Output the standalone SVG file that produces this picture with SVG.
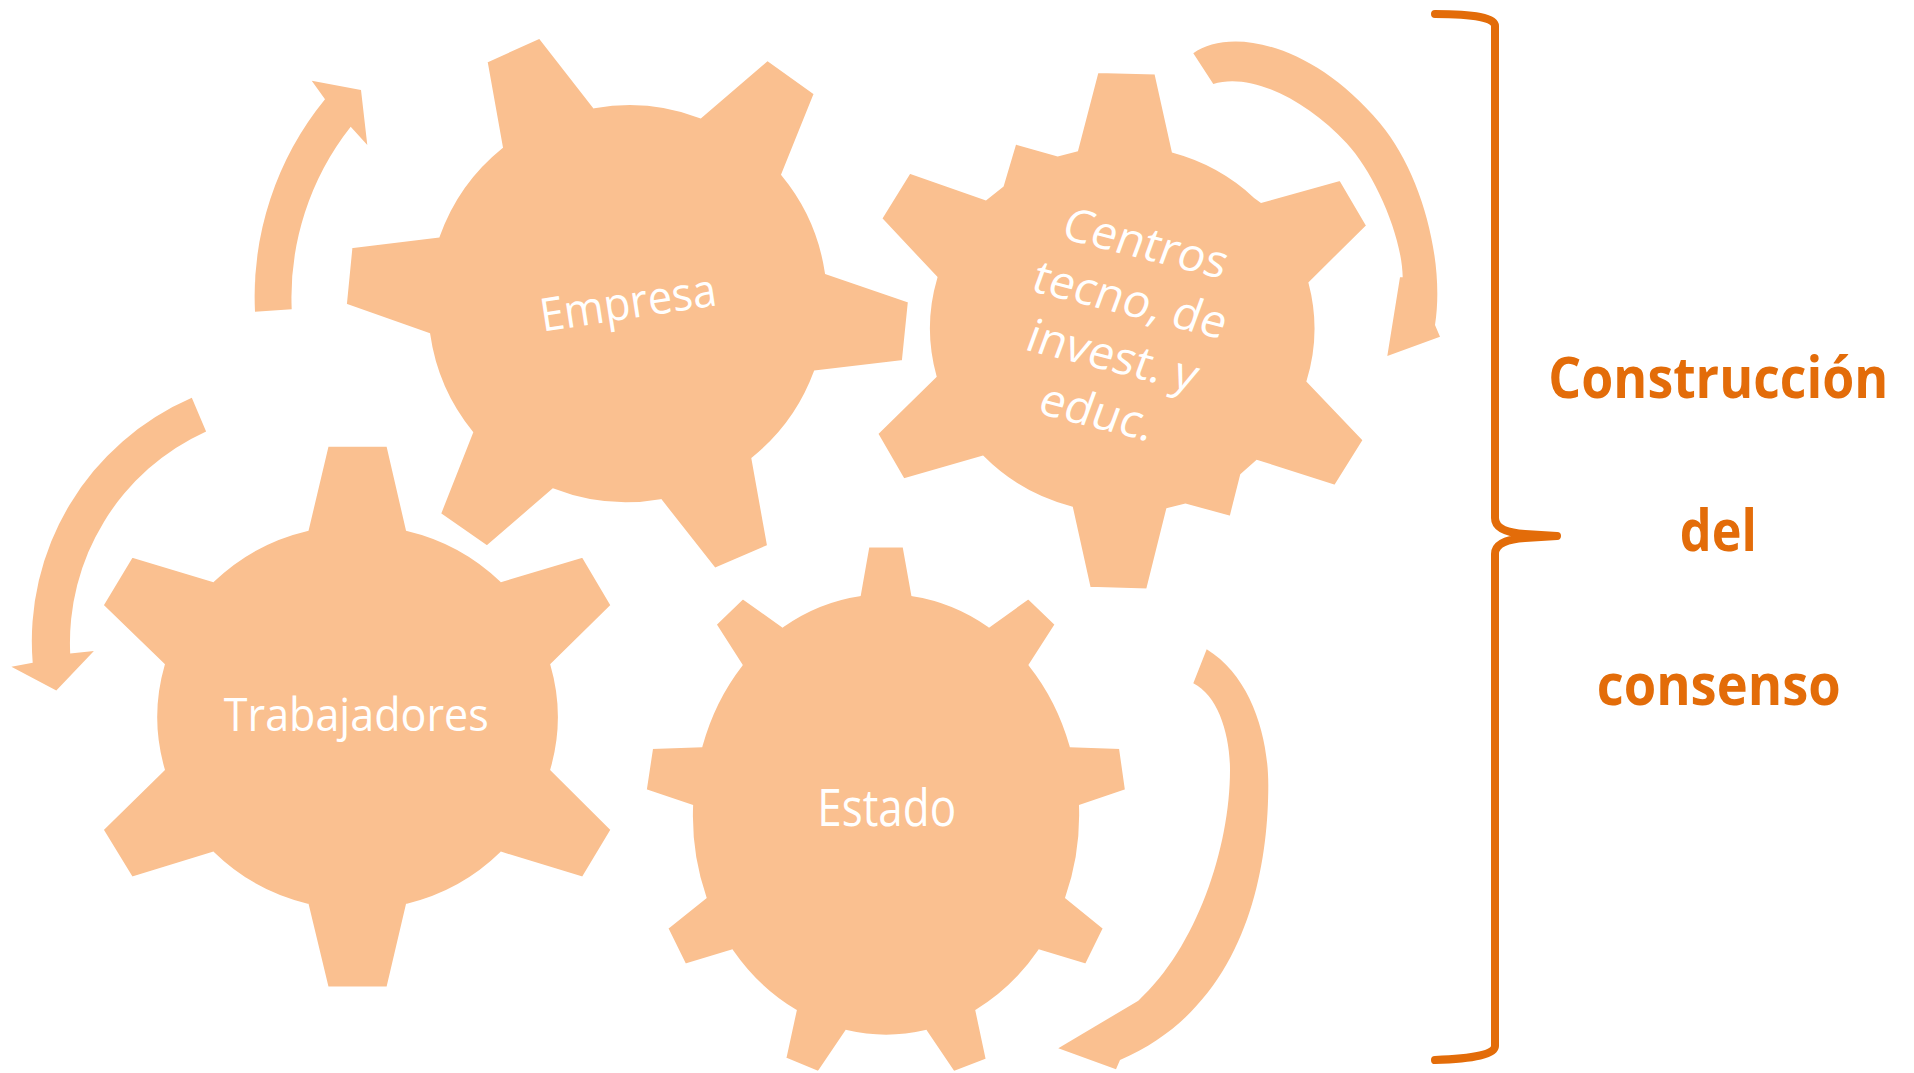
<svg xmlns="http://www.w3.org/2000/svg" width="1914" height="1073" viewBox="0 0 1914 1073">
<style>
.gear{fill:#FAC090;stroke:#FFFFFF;stroke-width:3;stroke-linejoin:miter}
.arrow{fill:#FAC090;stroke:none}
.gt{font-family:"Open Sans","Liberation Sans",sans-serif;font-size:46px;fill:#FFFFFF;text-anchor:middle}
.lbl{font-family:"Open Sans","Liberation Sans",sans-serif;font-weight:700;font-size:52px;fill:#E36C09;text-anchor:middle}
.brace{fill:none;stroke:#E36C09;stroke-width:8;stroke-linecap:round;stroke-linejoin:round}
</style>
<rect width="1914" height="1073" fill="#FFFFFF"/>
<g id="connectors">
<path class="arrow" d="M 255,311.7 A 312 312 0 0 1 325,99.3 L 311.7,80.7 L 361,90 L 367.3,145 L 350.7,126.7 A 276 276 0 0 0 291.7,309.3 Z"/>
<path class="arrow" d="M 191.8,397.8 A 265 265 0 0 0 32.7,662.7 L 11.4,666.7 L 56.3,690.4 L 93.9,650.9 L 70.2,653.6 A 232 232 0 0 1 206.1,431.4 Z"/>
<path class="arrow" d="M 1193.3,53.3 C 1228,28 1310,40 1380,123.3 C 1422,173.3 1445,262 1435,325 L 1440,336.7 L 1387.3,356 L 1400,277.3 L 1402.7,277.3 C 1402,235 1373.9,172.7 1346.7,143.3 C 1306,99.3 1250,72 1213.3,84 Z"/>
<path class="arrow" d="M 1206.7,649.3 C 1250.9,676.3 1268.3,736 1268.3,785 C 1268.3,874 1244.1,1006.8 1120,1060 L 1116,1069.3 L 1058.3,1048.3 L 1138.3,1000.7 C 1196.4,947.6 1230,848 1230,770 C 1230,734.5 1218.2,695.7 1193.3,683.3 Z"/>
</g>
<g id="empresa">
<path class="gear" d="M 486.1,61.4 L 539.7,37.1 L 594.1,106.8 A 200 200 0 0 1 700.5,116.8 L 767.4,59.3 L 815.3,93.6 L 782.7,174.6 A 200 200 0 0 1 826.4,272.9 L 909.4,301.4 L 903.3,361.4 L 815.3,371.8 A 200 200 0 0 1 752.9,458.6 L 768.6,546.1 L 714.6,569.3 L 660.7,500.7 A 200 200 0 0 1 553.1,490 L 486.9,547.1 L 439.5,513.9 L 471.6,432.5 A 200 200 0 0 1 428.7,334.3 L 345.3,305 L 351,246.8 L 438.3,236.1 A 200 200 0 0 1 501.4,147.1 Z"/>
<text class="gt" transform="translate(630.4,318.4) rotate(-8.66)" textLength="178" lengthAdjust="spacingAndGlyphs">Empresa</text>
</g>
<g id="centros">
<path class="gear" d="M 1097.2,71.4 L 1155.8,72.9 L 1173.2,151.4 A 192 185 0 0 1 1255.4,197.1 L 1261.3,201.4 L 1340.4,179.3 L 1367.7,225.7 L 1310,282.9 A 192 185 0 0 1 1308,381.1 L 1364.2,440 L 1335.3,486.4 L 1257,461.4 L 1241.6,475 L 1230.9,517.5 L 1185.4,505 L 1167.6,509.6 L 1147.5,590 L 1089.3,588.2 L 1071.5,507.9 A 192 185 0 0 1 982.6,457.1 L 903.5,480 L 876.6,433.6 L 935.1,376.4 A 192 185 0 0 1 935.9,277.5 L 880.6,218.6 L 909.4,172.1 L 985.7,198.9 L 1002.3,185.7 L 1015,142.9 L 1057.7,155 L 1076.7,150 Z"/>
<g transform="translate(1122,331.5) rotate(14.2) skewX(-6)">
<text class="gt" x="-8" y="-75.5">Centros</text>
<text class="gt" x="-3" y="-17">tecno, de</text>
<text class="gt" x="0" y="41.5">invest. y</text>
<text class="gt" x="5" y="100">educ.</text>
</g>
</g>
<g id="trabajadores">
<path class="gear" d="M 327.3,445.2 L 387.8,445.2 L 407.3,529.5 A 201 194 0 0 1 501.2,580.5 L 582.9,556 L 612.2,605.4 L 551.8,664.7 A 201 194 0 0 1 551.8,769.5 L 612.2,829.6 L 582.9,878.2 L 501.2,853.3 A 201 194 0 0 1 407.3,905.1 L 387.8,988.1 L 327.3,988.1 L 307.3,905.1 A 201 194 0 0 1 213.1,853.3 L 131.8,878.2 L 102,829.6 L 163.3,769.5 A 201 194 0 0 1 163.3,664.7 L 102,605.4 L 131.8,556 L 213.1,580.5 A 201 194 0 0 1 307.3,529.5 Z"/>
<text class="gt" x="356.3" y="731.1" textLength="265" lengthAdjust="spacingAndGlyphs">Trabajadores</text>
</g>
<g id="estado">
<path class="gear" d="M 868,546.1 L 904,546.1 L 912.7,594.8 A 195 222 0 0 1 989,625.8 L 1028.5,597.6 L 1056.3,624.4 L 1030.2,665 A 195 222 0 0 1 1071,745.7 L 1120.4,747.5 L 1126.5,790.5 L 1080.5,806.1 A 195 222 0 0 1 1066.7,897.4 L 1104.4,928.1 L 1086.2,965.1 L 1039.3,951 A 195 222 0 0 1 976.9,1010.7 L 987.3,1059.7 L 953.5,1072.7 L 925.7,1031.5 A 195 222 0 0 1 846.4,1031.5 L 818.6,1072.7 L 784.8,1058.6 L 795.2,1010.7 A 195 222 0 0 1 731.9,951 L 685,965.1 L 666.8,928.1 L 705,897.4 A 195 222 0 0 1 691.6,806.1 L 645.2,790.5 L 651.7,747.5 L 701.1,745.7 A 195 222 0 0 1 741,665 L 715,624.4 L 742.7,597.6 L 782.6,625.8 A 195 222 0 0 1 859.4,594.8 Z"/>
<text class="gt" transform="translate(886.7,825.5) scale(1,1.1)" textLength="139" lengthAdjust="spacingAndGlyphs">Estado</text>
</g>
<g id="consenso">
<path class="brace" d="M 1435,14 Q 1495,14 1495,26 L 1495,518 Q 1495,532 1525,534 L 1557,536 L 1525,538 Q 1495,540 1495,554 L 1495,1046 Q 1495,1058 1435,1060"/>
<text class="lbl" transform="translate(1718.3,398.4) scale(1,1.1)" textLength="340" lengthAdjust="spacingAndGlyphs">Construcción</text>
<text class="lbl" transform="translate(1718.3,551) scale(1,1.1)" textLength="77" lengthAdjust="spacingAndGlyphs">del</text>
<text class="lbl" transform="translate(1718.7,705) scale(1,1.1)" textLength="244" lengthAdjust="spacingAndGlyphs">consenso</text>
</g>
</svg>
